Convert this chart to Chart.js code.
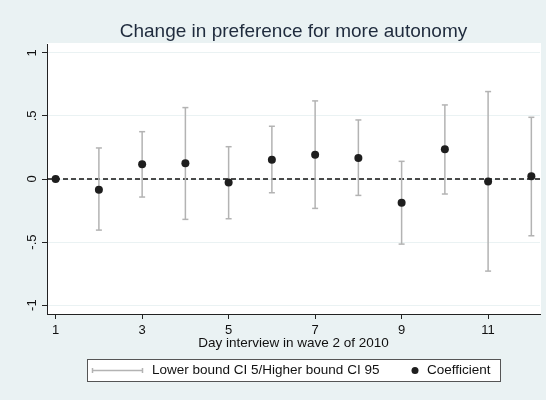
<!DOCTYPE html>
<html>
<head>
<meta charset="utf-8">
<script src="https://cdn.jsdelivr.net/npm/chart.js@4"></script>
<style>
  html, body { margin: 0; padding: 0; background: #eaf2f3; }
  #wrap { width: 546px; height: 400px; position: relative; }
</style>
</head>
<body>
<div id="wrap"><canvas id="c"></canvas></div>
<script>
// Interview day in wave 2 of 2010
const days = [1, 2, 3, 4, 5, 6, 7, 8, 9, 10, 11, 12];
// Estimated coefficient per day (day 1 is the reference)
const coefficient = [0, -0.085, 0.116, 0.124, -0.027, 0.153, 0.193, 0.167, -0.188, 0.235, -0.019, 0.021];
// 5% / 95% confidence bounds
const ciLow  = [null, -0.405, -0.143, -0.320, -0.315, -0.109, -0.233, -0.130, -0.516, -0.119, -0.730, -0.450];
const ciHigh = [null,  0.246,  0.375,  0.566,  0.256,  0.418,  0.619,  0.468,  0.140,  0.587,  0.693,  0.489];
const xTicks = [1, 3, 5, 7, 9, 11];
const yTicks = [-1, -0.5, 0, 0.5, 1];

const BG = '#eaf2f3';
const CI_COLOR = '#b3b3b3';
const DOT_COLOR = '#1e1e1e';
const FONT = 'Liberation Sans, Arial, sans-serif';

// Vertical CI segments, separated by gaps; 'line' point style gives the caps
const ciPoints = [];
days.forEach((d, i) => {
  if (ciLow[i] === null) return;
  ciPoints.push({ x: d, y: ciLow[i] }, { x: d, y: ciHigh[i] }, { x: d, y: null });
});
const coefPoints = days.map((d, i) => ({ x: d, y: coefficient[i] }));

const backdrop = {
  id: 'backdrop',
  beforeDraw(chart) {
    const { ctx, chartArea: a } = chart;
    ctx.save();
    ctx.fillStyle = BG;
    ctx.fillRect(0, 0, chart.width, chart.height);
    ctx.fillStyle = '#ffffff';
    ctx.fillRect(a.left, a.top - 1, a.right - a.left + 1, a.bottom - a.top + 1);
    ctx.restore();
  }
};

const boxedLegend = {
  id: 'boxedLegend',
  afterDraw(chart) {
    const ctx = chart.ctx;
    const ds = chart.data.datasets;
    ctx.save();
    ctx.fillStyle = '#ffffff';
    ctx.fillRect(87, 359, 414, 23);
    ctx.strokeStyle = '#555555';
    ctx.lineWidth = 1;
    ctx.strokeRect(87.5, 359.5, 413, 22);
    const cy = 370.5;
    // CI symbol
    ctx.strokeStyle = CI_COLOR;
    ctx.lineWidth = 1.5;
    ctx.beginPath();
    ctx.moveTo(92, cy); ctx.lineTo(143, cy);
    ctx.moveTo(92.5, cy - 2.5); ctx.lineTo(92.5, cy + 2.5);
    ctx.moveTo(142.5, cy - 2.5); ctx.lineTo(142.5, cy + 2.5);
    ctx.stroke();
    ctx.fillStyle = '#111111';
    ctx.font = '13.5px ' + FONT;
    ctx.textBaseline = 'middle';
    ctx.fillText(ds[1].label, 152, cy);
    // coefficient symbol
    ctx.fillStyle = DOT_COLOR;
    ctx.beginPath();
    ctx.arc(415, cy, 3.5, 0, Math.PI * 2);
    ctx.fill();
    ctx.fillStyle = '#111111';
    ctx.fillText(ds[0].label, 427, cy);
    ctx.restore();
  }
};

new Chart(document.getElementById('c'), {
  type: 'line',
  data: {
    datasets: [
      {
        label: 'Coefficient',
        data: coefPoints,
        showLine: false,
        pointRadius: 4,
        pointHoverRadius: 4,
        pointBackgroundColor: DOT_COLOR,
        pointBorderColor: DOT_COLOR,
        pointBorderWidth: 0
      },
      {
        label: 'Lower bound CI 5/Higher bound CI 95',
        data: ciPoints,
        borderColor: CI_COLOR,
        borderWidth: 1.5,
        spanGaps: false,
        pointStyle: 'line',
        pointRadius: 3,
        pointHoverRadius: 3,
        pointBorderColor: CI_COLOR,
        pointBorderWidth: 1.5
      },
      {
        label: 'zero',
        data: [{ x: 0.8, y: 0 }, { x: 12.2, y: 0 }],
        borderColor: '#111111',
        borderWidth: 1.3,
        borderDash: [5, 3],
        pointRadius: 0
      }
    ]
  },
  options: {
    responsive: true,
    maintainAspectRatio: false,
    animation: false,
    events: [],
    layout: { padding: { top: 0, right: 6, bottom: 48.2, left: 0 } },
    plugins: {
      legend: { display: false },
      tooltip: { enabled: false },
      title: {
        display: true,
        fullSize: false,
        text: 'Change in preference for more autonomy',
        color: '#1f2b3d',
        font: { family: FONT, size: 19, weight: 'normal', lineHeight: 1.2 },
        padding: { top: 20, bottom: 1.2 }
      }
    },
    scales: {
      x: {
        type: 'linear',
        min: 0.8,
        max: 12.2,
        afterBuildTicks: s => { s.ticks = xTicks.map(v => ({ value: v })); },
        afterFit: s => { s.height = 37.8; },
        grid: { drawOnChartArea: false, drawTicks: true, tickLength: 5, tickColor: '#222222', tickWidth: 1 },
        border: { display: true, color: '#222222', width: 1 },
        ticks: { color: '#111111', font: { family: FONT, size: 13 }, padding: 4, maxRotation: 0, minRotation: 0 },
        title: {
          display: true,
          text: 'Day interview in wave 2 of 2010',
          color: '#111111',
          font: { family: FONT, size: 13.5 },
          padding: { top: 0, bottom: 0 }
        }
      },
      y: {
        type: 'linear',
        min: -1.07,
        max: 1.07,
        afterBuildTicks: s => { s.ticks = yTicks.map(v => ({ value: v })); },
        afterFit: s => { s.width = 47; },
        grid: { color: BG, lineWidth: 1, drawTicks: true, tickLength: 5, tickColor: '#222222', tickWidth: 1 },
        border: { display: true, color: '#222222', width: 1 },
        ticks: {
          color: '#111111',
          font: { family: FONT, size: 13 },
          padding: 2,
          minRotation: 90,
          maxRotation: 90,
          crossAlign: 'center',
          callback: v => (v === 0 ? '0' : String(v).replace('0.', '.'))
        }
      }
    }
  },
  plugins: [backdrop, boxedLegend]
});
</script>
</body>
</html>
